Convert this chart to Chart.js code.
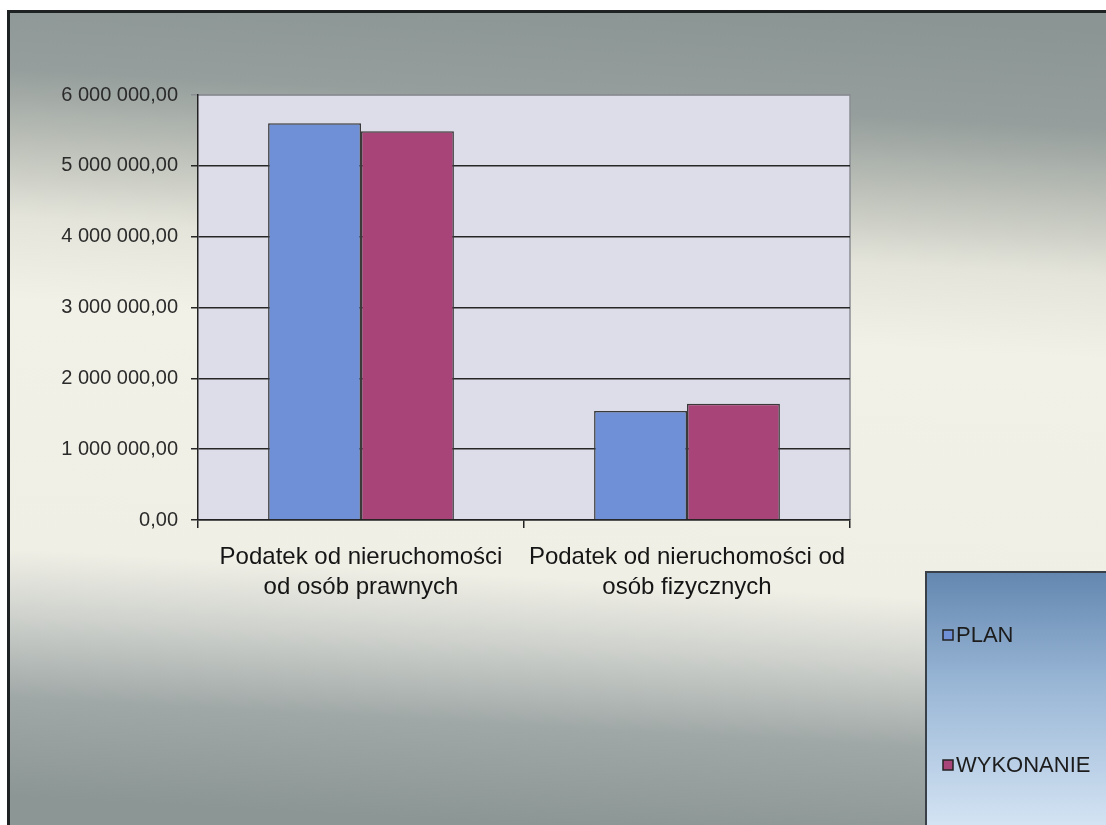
<!DOCTYPE html>
<html>
<head>
<meta charset="utf-8">
<script src="https://cdn.jsdelivr.net/npm/chart.js@4.4.1/dist/chart.umd.min.js"></script>
<style>
html,body{margin:0;padding:0;background:#fff;}
canvas{display:block;}
</style>
</head>
<body>
<canvas id="c" width="1106" height="825"></canvas>
<script>
const categories = [
  ["Podatek od nieruchomości", "od osób prawnych"],
  ["Podatek od nieruchomości od", "osób fizycznych"]
];
const seriesNames = ["PLAN", "WYKONANIE"];
const planValues = [5600000, 1540000];
const wykonanieValues = [5490000, 1640000];
const yTicks = [0, 1000000, 2000000, 3000000, 4000000, 5000000, 6000000];

function fmt(v){
  const s = Math.round(v).toString().replace(/\B(?=(\d{3})+(?!\d))/g, " ");
  return s + ",00";
}

const bgPlugin = {
  id: 'bg',
  beforeDraw(chart){
    const ctx = chart.ctx;
    const W = chart.width, H = chart.height;
    ctx.save();
    ctx.fillStyle = '#ffffff';
    ctx.fillRect(0,0,W,H);
    const g = ctx.createLinearGradient(575, 0, 530, H);
    g.addColorStop(0.00, '#8b9593');
    g.addColorStop(0.12, '#959e9c');
    g.addColorStop(0.21, '#bcc0b8');
    g.addColorStop(0.30, '#e4e4da');
    g.addColorStop(0.40, '#f2f1e8');
    g.addColorStop(0.70, '#f0efe6');
    g.addColorStop(0.78, '#cfd2cd');
    g.addColorStop(0.88, '#a0a8a7');
    g.addColorStop(1.00, '#8c9695');
    ctx.fillStyle = g;
    ctx.fillRect(8, 11, W-8, H-11);
    ctx.strokeStyle = '#1e2222';
    ctx.lineWidth = 3;
    ctx.beginPath();
    ctx.moveTo(8.5, H);
    ctx.lineTo(8.5, 11.5);
    ctx.lineTo(W, 11.5);
    ctx.stroke();
    const a = chart.chartArea;
    ctx.fillStyle = '#dcdde8';
    ctx.fillRect(a.left, a.top, a.right-a.left, a.bottom-a.top);
    ctx.strokeStyle = '#8a8d92';
    ctx.lineWidth = 1.5;
    ctx.beginPath();
    ctx.moveTo(a.left, a.top);
    ctx.lineTo(a.right, a.top);
    ctx.lineTo(a.right, a.bottom);
    ctx.stroke();
    ctx.restore();
  }
};

const legendPlugin = {
  id: 'boxLegend',
  afterDraw(chart){
    const ctx = chart.ctx;
    const x0 = 926, y0 = 572, W = chart.width, H = chart.height;
    ctx.save();
    const g = ctx.createLinearGradient(0, y0, 0, H);
    g.addColorStop(0, '#6387b0');
    g.addColorStop(0.45, '#9ab7d6');
    g.addColorStop(1, '#d3e3f3');
    ctx.fillStyle = g;
    ctx.fillRect(x0, y0, W - x0, H - y0);
    ctx.strokeStyle = '#3a4048';
    ctx.lineWidth = 2;
    ctx.beginPath();
    ctx.moveTo(x0, H);
    ctx.lineTo(x0, y0);
    ctx.lineTo(W, y0);
    ctx.stroke();
    const ys = [635, 765];
    chart.data.datasets.forEach((ds, i) => {
      const y = ys[i];
      ctx.fillStyle = ds.backgroundColor;
      ctx.fillRect(943, y-5, 10, 10);
      ctx.strokeStyle = '#222';
      ctx.lineWidth = 1.5;
      ctx.strokeRect(943, y-5, 10, 10);
      ctx.fillStyle = '#1c1c1c';
      ctx.font = '22px "Liberation Sans", Arial, sans-serif';
      ctx.textBaseline = 'middle';
      ctx.textAlign = 'left';
      ctx.fillText(ds.label, 956, y+1);
    });
    ctx.restore();
  }
};

new Chart(document.getElementById('c'), {
  type: 'bar',
  data: {
    labels: categories,
    datasets: [
      { label: seriesNames[0], data: planValues, backgroundColor: '#6f8fd6', borderColor: '#3a3a3a', borderWidth: 1.5 },
      { label: seriesNames[1], data: wykonanieValues, backgroundColor: '#a84478', borderColor: '#3a3a3a', borderWidth: 1.5 }
    ]
  },
  options: {
    responsive: false,
    animation: false,
    events: [],
    layout: { padding: { top: 95, right: 256, left: 0, bottom: 0 } },
    datasets: { bar: { categoryPercentage: 0.57, barPercentage: 1.0 } },
    plugins: { legend: { display: false }, tooltip: { enabled: false } },
    scales: {
      x: {
        afterFit(s){ s.height = 305; },
        grid: { display: true, drawOnChartArea: false, drawTicks: true, tickLength: 8, color: '#222', lineWidth: 1.5, offset: true },
        border: { display: true, color: '#222', width: 1.5 },
        ticks: {
          color: '#151515', maxRotation: 0, autoSkip: false, padding: 14,
          font: { family: '"Liberation Sans", Arial, sans-serif', size: 24, lineHeight: 1.25 }
        }
      },
      y: {
        min: 0, max: 6000000,
        afterFit(s){ s.width = 198; },
        afterBuildTicks(s){ s.ticks = yTicks.map(v => ({ value: v })); },
        grid: {
          color: (c) => c.tick && c.tick.value === 6000000 ? '#8a8d92' : '#262626',
          lineWidth: 1.5, tickLength: 7, drawTicks: true
        },
        border: { display: true, color: '#222', width: 1.5 },
        ticks: {
          color: '#2b2b2b', padding: 13,
          font: { family: '"Liberation Sans Narrow", "Liberation Sans", Arial, sans-serif', size: 20 },
          callback: (v) => fmt(v)
        }
      }
    }
  },
  plugins: [bgPlugin, legendPlugin]
});
</script>
</body>
</html>
